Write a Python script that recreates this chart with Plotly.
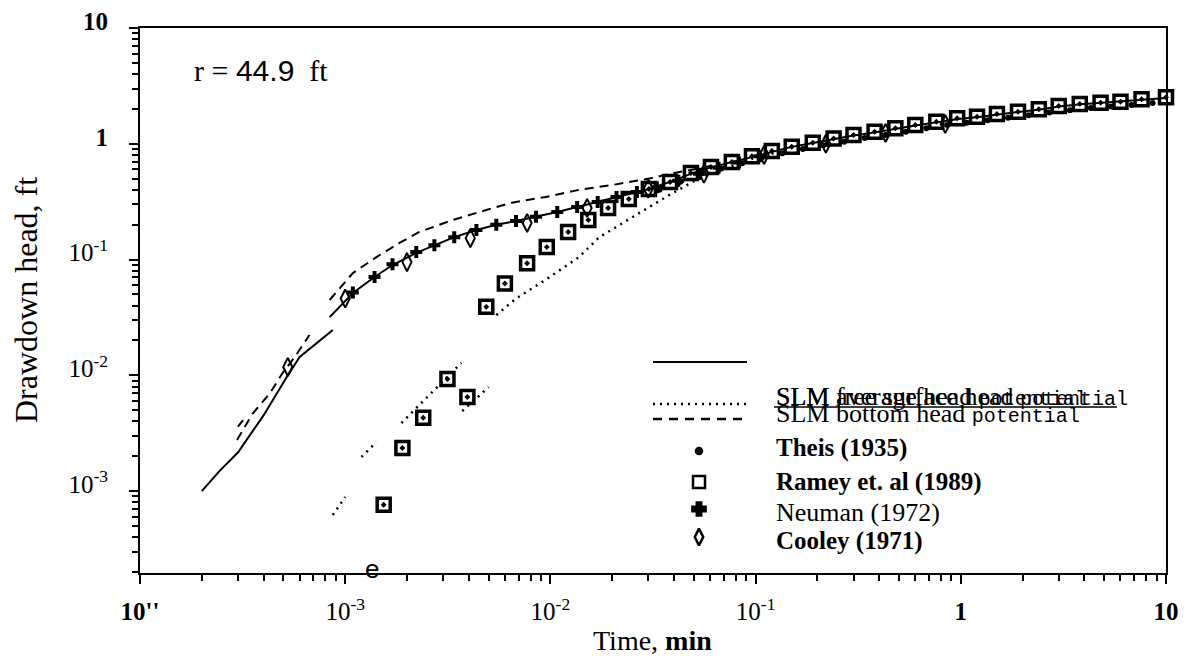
import plotly.graph_objects as go

# ---------------- data ----------------
# SLM average head potential (solid line); None = break in the curve
solid_t = [2.0e-4, 2.45e-4, 3.0e-4, 4.0e-4, 5.2e-4, 6.0e-4, 8.7e-4, None,
           8.4e-4, 1.09e-3, 1.39e-3, 1.7e-3, 2.22e-3, 2.72e-3, 3.4e-3, 4.36e-3,
           5.45e-3, 6.8e-3, 8.5e-3, 0.0108, 0.0135, 0.017, 0.021, 0.0264, 0.0302,
           0.0383, 0.0484, 0.0606, 0.0766, 0.096, 0.12, 0.15, 0.187, 0.24, 0.30,
           0.385, 0.48, 0.60, 0.76, 0.97, 1.22, 1.52, 1.9, 2.44, 3.0, 3.86, 4.8,
           6.0, 7.55, 10.0]
solid_s = [1.0e-3, 1.5e-3, 2.15e-3, 4.5e-3, 9.7e-3, 1.44e-2, 2.46e-2, None,
           0.0318, 0.0514, 0.0706, 0.0897, 0.114, 0.133, 0.156, 0.18,
           0.20, 0.215, 0.234, 0.257, 0.284, 0.314, 0.347, 0.383, 0.407,
           0.468, 0.55, 0.625, 0.695, 0.775, 0.86, 0.94, 1.01, 1.10, 1.18,
           1.26, 1.35, 1.44, 1.53, 1.64, 1.70, 1.80, 1.88, 1.98, 2.10, 2.19, 2.25,
           2.30, 2.38, 2.48]

# SLM free surface head potential (dotted line)
free_t = [8.7e-4, 1.0e-3, None, 1.2e-3, 1.42e-3, None, 1.88e-3, 3.68e-3, None,
          3.72e-3, 5.0e-3, None, 5.45e-3, 6.8e-3, 9.5e-3, 0.0138, 0.0173, 0.025,
          0.0366, 0.0513, 0.064, 0.08, 0.10, 0.13]
free_s = [6.2e-4, 8.9e-4, None, 1.97e-3, 2.65e-3, None, 3.87e-3, 0.0128, None,
          4.9e-3, 7.9e-3, None, 0.0332, 0.046, 0.067, 0.105, 0.156, 0.233,
          0.347, 0.487, 0.57, 0.66, 0.76, 0.85]

# SLM bottom head potential (dashed line)
bottom_t = [3.0e-4, 3.18e-4, None, 2.97e-4, 3.55e-4, 4.3e-4, 4.96e-4, 5.68e-4, 6.7e-4,
            None, 8.4e-4, 1.09e-3, 1.42e-3, 1.84e-3, 2.3e-3, 3.33e-3, 4.87e-3,
            6.5e-3, 9.5e-3, 0.0138, 0.02, 0.0302, 0.0366, 0.05, 0.065]
bottom_s = [3.6e-3, 4.1e-3, None, 2.76e-3, 4.7e-3, 7.0e-3, 0.0105, 0.0144, 0.0223,
            None, 0.0447, 0.0764, 0.105, 0.139, 0.173, 0.219, 0.268,
            0.31, 0.347, 0.40, 0.44, 0.50, 0.54, 0.60, 0.66]

# Theis (1935)
theis_t = [0.034, 0.043, 0.054, 0.068, 0.086, 0.107, 0.135, 0.17, 0.214, 0.27,
           0.34, 0.43, 0.54, 0.68, 0.86, 1.07, 1.35, 1.7, 2.14, 2.7, 3.4, 4.3,
           5.4, 6.8, 8.6]
theis_s = [0.40, 0.47, 0.55, 0.61, 0.68, 0.76, 0.83, 0.90, 0.97, 1.04,
           1.12, 1.19, 1.27, 1.36, 1.45, 1.52, 1.60, 1.68, 1.76, 1.86, 1.95, 2.04,
           2.10, 2.16, 2.25]

# Ramey et. al (1989)
ramey_t = [1.54e-3, 1.9e-3, 2.4e-3, 3.15e-3, 3.94e-3, 4.87e-3, 6.0e-3, 7.7e-3,
           9.6e-3, 0.0122, 0.0153, 0.0191, 0.0241, 0.0302, 0.0383, 0.0484,
           0.0606, 0.0766, 0.096, 0.12, 0.15, 0.19, 0.24, 0.30, 0.38, 0.48,
           0.60, 0.76, 0.96, 1.2, 1.5, 1.9, 2.4, 3.0, 3.8, 4.8, 6.0, 7.6, 10.0]
ramey_s = [7.6e-4, 2.35e-3, 4.3e-3, 9.3e-3, 6.5e-3, 0.039, 0.062, 0.093,
           0.128, 0.173, 0.219, 0.279, 0.333, 0.407, 0.468, 0.558,
           0.63, 0.695, 0.78, 0.865, 0.943, 1.02, 1.11, 1.19, 1.27, 1.36,
           1.45, 1.55, 1.66, 1.71, 1.81, 1.89, 1.99, 2.12, 2.21, 2.26, 2.31, 2.42, 2.52]

# Neuman (1972)
neuman_t = [1.09e-3, 1.39e-3, 1.7e-3, 2.22e-3, 2.72e-3, 3.4e-3, 4.36e-3, 5.45e-3,
            6.8e-3, 8.5e-3, 0.0108, 0.0135, 0.017, 0.021, 0.0264, 0.033, 0.042,
            0.053, 0.066, 0.083, 0.105]
neuman_s = [0.052, 0.0706, 0.091, 0.116, 0.133, 0.156, 0.18, 0.20,
            0.215, 0.234, 0.257, 0.284, 0.314, 0.347, 0.383, 0.42, 0.48,
            0.55, 0.62, 0.69, 0.78]

# Cooley (1971)
cooley_t = [5.25e-4, 1.0e-3, 2.0e-3, 4.07e-3, 7.7e-3, 0.0151, 0.03, 0.056,
            0.11, 0.22, 0.43, 0.84]
cooley_s = [0.0118, 0.046, 0.095, 0.153, 0.207, 0.279, 0.41, 0.55,
            0.80, 1.00, 1.24, 1.48]

x_tickvals = [1e-4, 1e-3, 1e-2, 1e-1, 1, 10]
x_ticktext = ["<b>10''</b>", "10<sup>-3</sup>", "10<sup>-2</sup>", "10<sup>-1</sup>",
              "<b>1</b>", "<b>10</b>"]
y_tickvals = [1e-3, 1e-2, 1e-1, 1, 10]
y_ticktext = ["10<sup>-3</sup>", "10<sup>-2</sup>", "10<sup>-1</sup>", "<b>1</b>", "<b>10</b>"]

# ---------------- figure ----------------
W, H = 1192, 666
L, R, T, B = 140, 26, 28, 93
pw, ph = W - L - R, H - T - B

def px(x):
    return (x - L) / pw

def py(y):
    return (H - B - y) / ph

SERIF = "Liberation Serif"
fig = go.Figure()

fig.add_trace(go.Scatter(x=solid_t, y=solid_s, mode="lines",
                         line=dict(color="black", width=2), connectgaps=False))
fig.add_trace(go.Scatter(x=free_t, y=free_s, mode="lines",
                         line=dict(color="black", width=2.5, dash="2px,5px"), connectgaps=False))
fig.add_trace(go.Scatter(x=bottom_t, y=bottom_s, mode="lines",
                         line=dict(color="black", width=2, dash="9px,6px"), connectgaps=False))
fig.add_trace(go.Scatter(x=theis_t, y=theis_s, mode="markers",
                         marker=dict(symbol="circle", size=6, color="black"), cliponaxis=False))
fig.add_trace(go.Scatter(x=ramey_t, y=ramey_s, mode="markers", cliponaxis=False,
                         marker=dict(symbol="square-open-dot", size=13, color="black",
                                     line=dict(width=3.5, color="black"))))
fig.add_trace(go.Scatter(x=neuman_t, y=neuman_s, mode="markers",
                         marker=dict(symbol="cross", size=10, color="black")))
fig.add_trace(go.Scatter(x=cooley_t, y=cooley_s, mode="markers",
                         marker=dict(symbol="diamond-tall-open", size=13, color="black",
                                     line=dict(width=2, color="black"))))

# legend markers on an overlay axis measured in page pixels
leg_sym = ["circle", "square-open", "cross", "diamond-tall-open"]
leg_y = [451, 482, 509, 537]
leg_size = [6, 12, 11, 12]
for s, yy, sz in zip(leg_sym, leg_y, leg_size):
    fig.add_trace(go.Scatter(x=[699], y=[yy], mode="markers", xaxis="x2", yaxis="y2",
                             cliponaxis=False,
                             marker=dict(symbol=s, size=sz, color="black",
                                         line=dict(width=2.5, color="black"))))

shapes = [
    dict(type="line", xref="paper", yref="paper", x0=px(653), x1=px(747), y0=py(362), y1=py(362),
         line=dict(color="black", width=2)),
    dict(type="line", xref="paper", yref="paper", x0=px(653), x1=px(747), y0=py(404), y1=py(404),
         line=dict(color="black", width=2.5, dash="2px,5px")),
    dict(type="line", xref="paper", yref="paper", x0=px(653), x1=px(747), y0=py(419), y1=py(419),
         line=dict(color="black", width=2.5, dash="9px,7px")),
    dict(type="line", xref="paper", yref="paper", x0=px(774), x1=px(1117), y0=py(407), y1=py(407),
         line=dict(color="black", width=1.5)),
]

ann = []
def txt(x, y, s, size, xanchor="left", font=SERIF, angle=0):
    ann.append(dict(x=px(x), y=py(y), xref="paper", yref="paper", text=s, showarrow=False,
                    xanchor=xanchor, yanchor="middle", textangle=angle,
                    font=dict(family=font, size=size, color="black")))

mono = '<span style="font-family:Liberation Mono;font-size:20px">potential</span>'
txt(774, 396, "SLM free surface head " + mono, 26)
txt(774, 396, "SLM average head " + mono, 26)
txt(774, 413, "SLM bottom head " + mono, 26)
txt(774, 448, "<b>Theis (1935)</b>", 25)
txt(774, 482, "<b>Ramey et. al (1989)</b>", 25)
txt(774, 512, "Neuman (1972)", 26)
txt(774, 541, "<b>Cooley (1971)</b>", 25)
txt(192, 70, 'r = <span style="font-family:Liberation Sans">44.9</span>  ft', 30)
txt(26, 300, "Drawdown head, ft", 32, xanchor="center", angle=-90)
txt(652, 640, "Time, <b>min</b>", 28, xanchor="center")
txt(363, 569, "e", 26, font="Liberation Sans")

axis_common = dict(type="log", showline=True, linecolor="black", linewidth=2, mirror=True,
                   showgrid=False, zeroline=False, ticks="outside", ticklen=9, tickwidth=2,
                   tickcolor="black", tickfont=dict(family=SERIF, size=25, color="black"))

minor_vals = []
for d in [1e-4, 1e-3, 1e-2, 1e-1, 1]:
    for m in [2, 3, 4, 5, 6, 7, 8, 9]:
        minor_vals.append(m * d)

fig.update_layout(
    width=W, height=H, margin=dict(l=L, r=R, t=T, b=B, autoexpand=False),
    paper_bgcolor="white", plot_bgcolor="white", showlegend=False,
    xaxis=dict(range=[-4, 1], tickmode="array", tickvals=x_tickvals, ticktext=x_ticktext,
               ticklabelstandoff=6,
               minor=dict(tickmode="array", tickvals=minor_vals, ticks="outside", ticklen=6,
                          tickwidth=1.5, tickcolor="black", showgrid=False),
               **axis_common),
    yaxis=dict(range=[-3.708, 1], tickmode="array", tickvals=y_tickvals, ticktext=y_ticktext,
               ticklabelstandoff=16, ticklabelshift=-7,
               minor=dict(tickmode="array", tickvals=minor_vals, ticks="outside", ticklen=6,
                          tickwidth=1.5, tickcolor="black", showgrid=False),
               **axis_common),
    xaxis2=dict(overlaying="x", range=[L, W - R], visible=False, anchor="y2"),
    yaxis2=dict(overlaying="y", range=[H - B, T], visible=False, anchor="x2"),
    shapes=shapes, annotations=ann,
)

fig.write_html("out.html")
